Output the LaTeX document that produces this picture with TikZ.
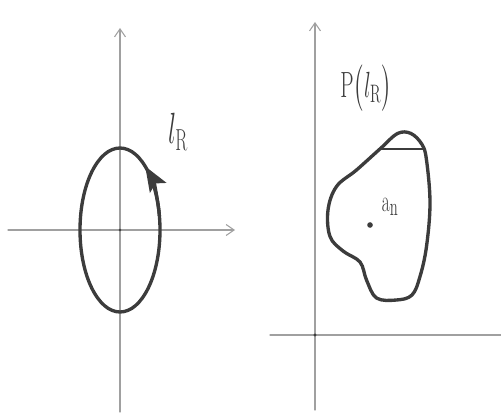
\documentclass[tikz,border=0pt]{standalone}
\usepackage{amsmath,amssymb}
\usepackage{tikz}
\usetikzlibrary{arrows.meta,calc}
\usepackage{xcolor}
\definecolor{curvegray}{HTML}{3C3C3C}
\definecolor{axisgray}{HTML}{A0A0A0}

\begin{document}
\begin{tikzpicture}[>={Straight Barb[length=1.6mm,width=2.2mm]},line cap=round,
  axis/.style={axisgray,line width=0.6pt,->},
  curve/.style={curvegray,line width=1.9pt},
  lbl/.style={text=curvegray,inner sep=0pt,xscale=0.58}]
\useasboundingbox (0,0) rectangle (10.02,8.34);
% left plane: the contour
\coordinate (O1) at (2.4,3.74);
\draw[axis] (0.16,3.74) -- (4.7,3.74);
\draw[axis] (2.4,0.1) -- (2.4,7.78);
\fill[curvegray] (O1) circle (0.8pt);
\draw[curve] (O1) ellipse [x radius=0.8,y radius=1.64];
\draw[curve,-{Stealth[length=5mm,width=3.8mm,inset=1mm]}] ($(O1)+(10:0.8 and 1.64)$)
  arc[start angle=10,end angle=51,x radius=0.8,y radius=1.64];
\node[lbl,font=\fontsize{27}{31}\selectfont] (lR) at (3.56,5.7) {$l_{\mathrm{R}}$};
% right plane: the image
\coordinate (O2) at (6.3,1.64);
\draw[axisgray,line width=0.6pt] (5.4,1.64) -- (10.02,1.64);
\draw[axis] (6.3,0.14) -- (6.3,7.9);
\fill[curvegray] (O2) circle (0.9pt);
\node[lbl,font=\fontsize{22}{26}\selectfont] (PlR) at (7.32,6.58) {$\mathrm{P}\bigl(l_{\mathrm{R}}\bigr)$};
\draw[curve] plot[smooth cycle,tension=0.6] coordinates {
  (7.62,5.38) (7.95,5.67) (8.22,5.67) (8.44,5.45) (8.53,5.14) (8.6,4.28) (8.53,3.41)
  (8.4,2.81) (8.24,2.44) (7.93,2.34) (7.53,2.38) (7.33,2.74) (7.2,3.10)
  (6.86,3.32) (6.6,3.61) (6.56,4.14) (6.73,4.61) (7.13,4.94)};
\coordinate (chordL) at (7.62,5.36);
\coordinate (chordR) at (8.5,5.36);
\draw[curvegray,line width=1.1pt] (chordL) -- (chordR);
\fill[curvegray] (7.4,3.84) circle (1.6pt);
\node[lbl,font=\fontsize{19}{22}\selectfont] (an) at (7.8,4.2) {$\mathrm{a}_{\mathrm{n}}$};
\end{tikzpicture}
\end{document}
